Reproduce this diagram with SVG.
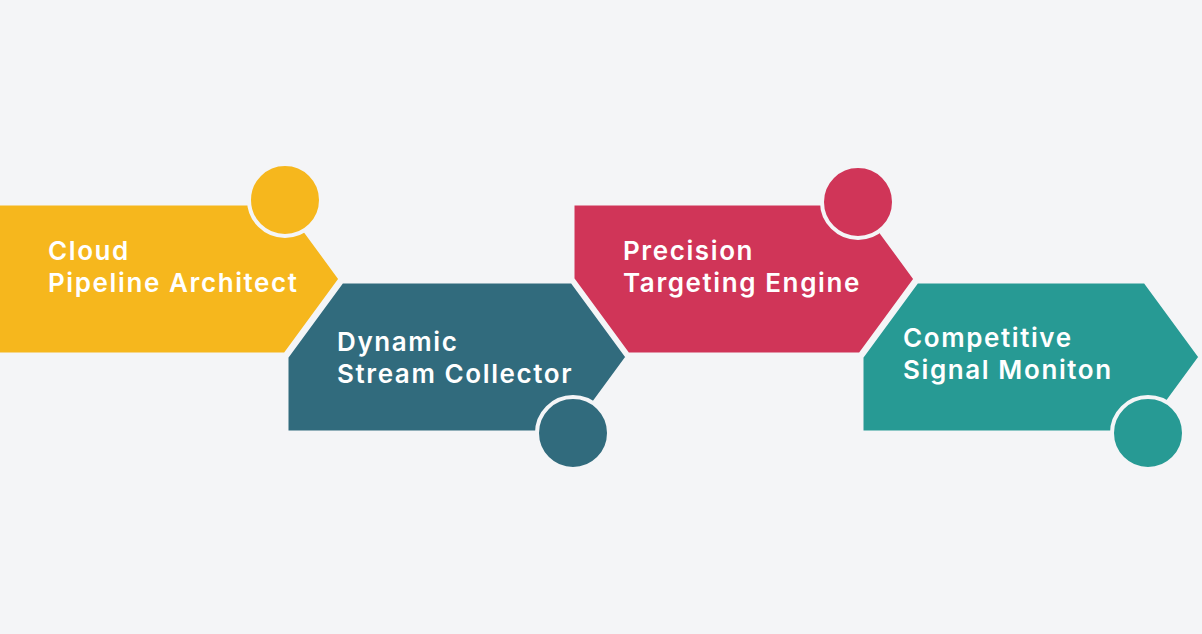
<svg xmlns="http://www.w3.org/2000/svg" width="1202" height="634" viewBox="0 0 1202 634">
<style>
.shape{stroke:#f4f5f7;stroke-width:3;stroke-linejoin:miter}
.dot{stroke:#f4f5f7;stroke-width:4}
.lbl{font-family:Inter,"Open Sans","Liberation Sans",sans-serif;font-weight:600;font-size:26px;letter-spacing:1.6px;fill:#ffffff}
.y{fill:#f6b71d}.t{fill:#316b7d}.r{fill:#d03558}.g{fill:#279a94}
</style>
<rect width="1202" height="634" fill="#f4f5f7"/>
<g id="node-cloud">
<polygon class="shape y" points="-5,204 285,204 340,279 285,354 -5,354"/>
<circle class="dot y" cx="285" cy="200" r="36"/>
<text class="lbl" x="48" y="260">Cloud</text>
<text class="lbl" x="48" y="292">Pipeline Architect</text>
</g>
<g id="node-dynamic">
<polygon class="shape t" points="287,357 342,282 572,282 627,357 572,432 287,432"/>
<circle class="dot t" cx="573" cy="433" r="36"/>
<text class="lbl" x="337" y="351">Dynamic</text>
<text class="lbl" x="337" y="383">Stream Collector</text>
</g>
<g id="node-precision">
<polygon class="shape r" points="573,204 860,204 915,279 860,354 628,354 573,279"/>
<circle class="dot r" cx="858" cy="202" r="36"/>
<text class="lbl" x="623" y="260">Precision</text>
<text class="lbl" x="623" y="292">Targeting Engine</text>
</g>
<g id="node-competitive">
<polygon class="shape g" points="862,357 917,282 1145,282 1200,357 1145,432 862,432"/>
<circle class="dot g" cx="1148" cy="433" r="36"/>
<text class="lbl" x="903" y="347">Competitive</text>
<text class="lbl" x="903" y="379">Signal Moniton</text>
</g>
<g id="connectors"/>
</svg>
